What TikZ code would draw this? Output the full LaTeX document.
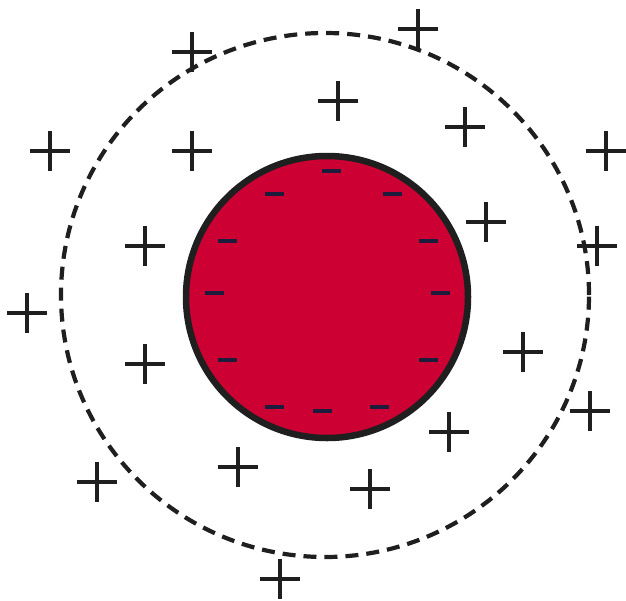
\documentclass[tikz,border=0pt]{standalone}
\definecolor{spherered}{RGB}{204,0,51}
\definecolor{chargeink}{RGB}{30,28,60}
\begin{document}
\begin{tikzpicture}[x=1pt, y=-1pt,
    plussign/.style={line width=4.2pt, black!88},
    minussign/.style={line width=4.8pt, chargeink}]
    \useasboundingbox (0,0) rectangle (626,600);
    % dashed boundary
    \draw[line width=4.2pt, black!88, dash pattern=on 13pt off 8pt] (325,295) ellipse [x radius=264pt, y radius=262pt];
    % charged sphere
    \draw[line width=6.5pt, draw=black!88, fill=spherered] (327,297) circle [radius=141pt];
    \foreach \mx/\my in {331/171, 274/194, 392/194, 227/241, 428/241, 214/293, 440/293,
        227/360, 428/360, 274/407, 379/407, 322/411}
        \draw[minussign] (\mx-9.5,\my) -- (\mx+9.5,\my);
    % counter ions
    \foreach \px/\py in {192/52, 418/29, 338/101, 465/127, 50/151, 192/151, 606/151,
        486/222, 145/246, 597/246, 27/313, 523/352, 145/364, 590/411,
        449/432, 238/467, 370/489, 97/482, 280/579}
        \draw[plussign] (\px-20,\py) -- (\px+20,\py) (\px,\py-20) -- (\px,\py+20);
\end{tikzpicture}
\end{document}
